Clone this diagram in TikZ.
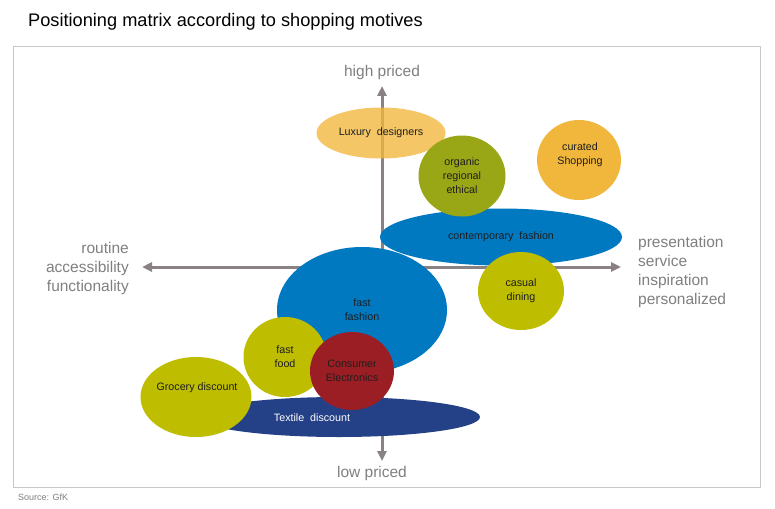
\documentclass[tikz,border=0pt]{standalone}
\usepackage{fontspec}
\setmainfont{Liberation Sans}
\usetikzlibrary{shapes.geometric,arrows.meta}
\definecolor{cOrange}{RGB}{241,183,60}
\definecolor{cOlive}{RGB}{153,166,22}
\definecolor{cYellow}{RGB}{190,189,0}
\definecolor{cBlue}{RGB}{0,121,193}
\definecolor{cNavy}{RGB}{36,64,135}
\definecolor{cRed}{RGB}{155,30,36}
\definecolor{cAxis}{RGB}{138,130,130}
\definecolor{cLabel}{RGB}{128,128,128}
\definecolor{cFrame}{RGB}{200,200,200}
\definecolor{cText}{RGB}{30,30,30}
\begin{document}
\begin{tikzpicture}[x=1pt,y=-1pt,
  bubble/.style={ellipse, inner sep=0pt, align=center, text=cText,
    font=\fontsize{10.7}{14}\selectfont},
  bubbletext/.style={inner sep=0pt, align=center, text=cText,
    font=\fontsize{10.7}{14}\selectfont},
  axisline/.style={draw=cAxis, line width=3pt, -{Triangle[length=10pt,width=9pt]}},
  axislabel/.style={text=cLabel, font=\fontsize{15.5}{19}\selectfont, inner sep=0pt}]
\useasboundingbox (0,0) rectangle (775,508);
\fill[white] (0,0) rectangle (775,508);
% title and frame
\node[anchor=west, inner sep=0pt, font=\fontsize{18.2}{21}\selectfont] (title) at (28,22) {Positioning matrix according to shopping motives};
\draw[cFrame, line width=1pt] (13,47) rectangle (760,487);
\node[anchor=west, inner sep=0pt, text=cLabel, font=\fontsize{9}{11}\selectfont] (src) at (18,497) {Source: GfK};
% axes
\coordinate (o) at (382,267);
\coordinate (top) at (382,86);
\coordinate (bot) at (382,461);
\coordinate (lft) at (142,267);
\coordinate (rgt) at (621,267);
\draw[axisline] (o) -- (top);
\draw[axisline] (o) -- (bot);
\draw[axisline] (o) -- (lft);
\draw[axisline] (o) -- (rgt);
\node[axislabel] (hp) at (382,72) {high priced};
\node[axislabel] (lp) at (372,473) {low priced};
\node[axislabel, anchor=north east, align=right] (ll) at (129,242) {routine\\accessibility\\functionality};
\node[axislabel, anchor=north west, align=left] (rl) at (638,236) {presentation\\service\\inspiration\\personalized};
% bubbles
\node[bubble, fill=cOrange, fill opacity=0.78, text opacity=1, minimum width=129pt, minimum height=51pt] (lux) at (381,133) {Luxury\ \ designers};
\node[bubble, fill=cBlue, minimum width=242pt, minimum height=57pt] (cont) at (501,237) {contemporary\ \ fashion};
\node[bubble, fill=cOlive, minimum width=87pt, minimum height=81pt] (org) at (462,176) {organic\\regional\\ethical};
\node[bubble, fill=cOrange, minimum width=84pt, minimum height=80pt] (cur) at (579,160) {};
\node[bubbletext] (curt) at (580,155) {curated\\Shopping};
\node[bubble, fill=cYellow, minimum width=86pt, minimum height=78pt] (cas) at (521,291) {casual\\dining};
\node[bubble, fill=cBlue, minimum width=170pt, minimum height=126pt] (ff) at (362,310) {fast\\fashion};
\node[bubble, fill=cNavy, minimum width=282pt, minimum height=40pt] (tex) at (339,417) {};
\node[bubbletext, text=white] (text) at (312,418) {Textile\ \ discount};
\node[bubble, fill=cYellow, minimum width=111pt, minimum height=80pt] (gro) at (196,397) {};
\node[bubbletext] (grot) at (197,388) {Grocery discount};
\node[bubble, fill=cYellow, minimum width=83pt, minimum height=80pt] (food) at (285,357) {fast\\food};
\node[bubble, fill=cRed, minimum width=84pt, minimum height=78pt] (ce) at (352,371) {Consumer\\Electronics};
\end{tikzpicture}
\end{document}
